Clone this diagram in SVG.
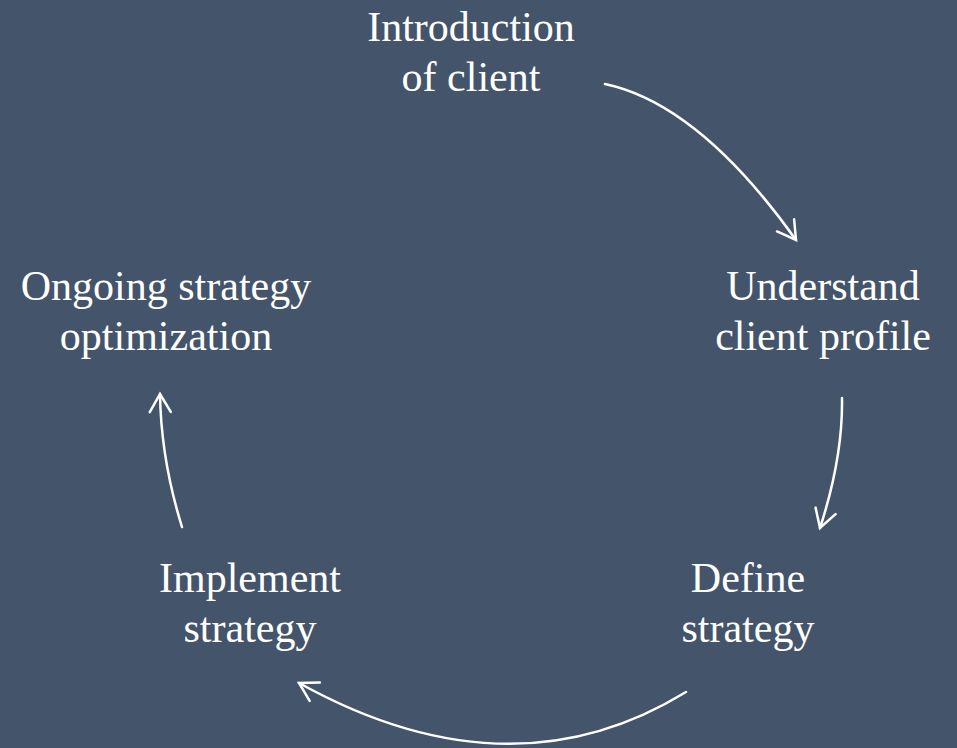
<svg xmlns="http://www.w3.org/2000/svg" width="957" height="748" viewBox="0 0 957 748">
<style>
.t{font-family:"Liberation Serif","Times New Roman",serif;font-size:42px;fill:#ffffff;text-anchor:middle}
.c{fill:none;stroke:#ffffff;stroke-width:2.5;stroke-linecap:round}
</style>
<defs>
<marker id="ah" markerUnits="userSpaceOnUse" markerWidth="40" markerHeight="40" viewBox="-25 -20 30 40" refX="0" refY="0" orient="auto">
<path d="M-18,-10.5 L0,0 L-18,10.5" fill="none" stroke="#ffffff" stroke-width="2.5" stroke-linecap="round" stroke-linejoin="miter"/>
</marker>
</defs>
<rect width="957" height="748" fill="#44546A"/>
<g id="connectors">
<path class="c" d="M605,84 Q699,104 796,240" marker-end="url(#ah)"/>
<path class="c" d="M842,398 Q843,457 820,528" marker-end="url(#ah)"/>
<path class="c" d="M686,692 Q510,800 299,683" marker-end="url(#ah)"/>
<path class="c" d="M182,527 Q161,459.5 160,394" marker-end="url(#ah)"/>
</g>
<g id="n1"><text class="t" x="471" y="41">Introduction</text><text class="t" x="471" y="91">of client</text></g>
<g id="n2"><text class="t" x="823" y="300">Understand</text><text class="t" x="823" y="350">client profile</text></g>
<g id="n3"><text class="t" x="748" y="592">Define</text><text class="t" x="748" y="642">strategy</text></g>
<g id="n4"><text class="t" x="250" y="592">Implement</text><text class="t" x="250" y="642">strategy</text></g>
<g id="n5"><text class="t" x="166" y="300">Ongoing strategy</text><text class="t" x="166" y="350">optimization</text></g>
</svg>
